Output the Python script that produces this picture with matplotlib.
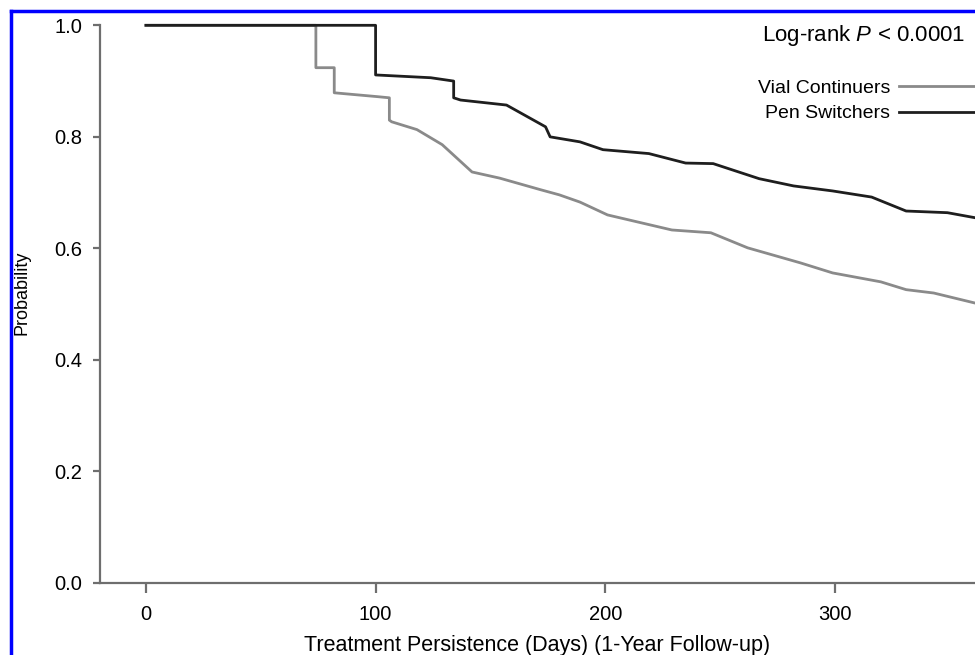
'''Kaplan-Meier style persistence curves: vial continuers vs pen switchers.'''

import matplotlib.pyplot as plt
from matplotlib.lines import Line2D

plt.rcParams['font.family'] = ['Liberation Sans', 'DejaVu Sans']
plt.rcParams['mathtext.fontset'] = 'custom'
plt.rcParams['mathtext.it'] = 'Liberation Sans:italic'
plt.rcParams['mathtext.rm'] = 'Liberation Sans'

# survival curves (days, probability)
vial_days = [0, 74, 74, 82, 82, 101, 106, 106, 107, 118, 129, 142, 154, 172,
             180, 189, 201, 229, 246, 262, 285, 299, 320, 331, 343, 361]
vial_surv = [1.0, 1.0, 0.924, 0.924, 0.879, 0.872, 0.870, 0.830, 0.827, 0.813,
             0.786, 0.737, 0.726, 0.705, 0.696, 0.683, 0.660, 0.633, 0.628,
             0.601, 0.574, 0.556, 0.540, 0.526, 0.520, 0.502]

pen_days = [0, 100, 100, 124, 134, 134, 137, 157, 174, 176, 189, 199, 219,
            235, 247, 267, 282, 299, 316, 331, 349, 361]
pen_surv = [1.0, 1.0, 0.911, 0.906, 0.900, 0.870, 0.866, 0.857, 0.818, 0.800,
            0.791, 0.777, 0.770, 0.753, 0.752, 0.725, 0.712, 0.703, 0.692,
            0.667, 0.664, 0.655]

x_ticks = [0, 100, 200, 300]
y_ticks = [0.0, 0.2, 0.4, 0.6, 0.8, 1.0]
labels = ['Vial Continuers', 'Pen Switchers']

AXIS_GREY = '#6e6e6e'

fig = plt.figure(figsize=(9.75, 6.55), dpi=100)
ax = fig.add_axes([100/975, 72/655, 875/975, 580/655])

ax.plot(vial_days, vial_surv, color='#8a8a8a', lw=2.0, label=labels[0], clip_on=False)
ax.plot(pen_days, pen_surv, color='#1e1e1e', lw=2.0, label=labels[1], clip_on=False)

ax.set_xlim(-20, 361)
ax.set_ylim(0, 1.04)

for side in ['top', 'right']:
    ax.spines[side].set_visible(False)
for side in ['left', 'bottom']:
    ax.spines[side].set_color(AXIS_GREY)
    ax.spines[side].set_linewidth(1.6)
ax.spines['left'].set_bounds(0, 1.0)

ax.set_xticks(x_ticks)
ax.set_xticklabels([str(t) for t in x_ticks])
ax.set_yticks(y_ticks)
ax.set_yticklabels([f'{t:.1f}' for t in y_ticks])
ax.tick_params(axis='x', length=7, width=1.6, color=AXIS_GREY, pad=9, labelsize=14.5)
ax.tick_params(axis='y', length=5, width=1.6, color=AXIS_GREY, pad=8, labelsize=14.5)

ax.set_xlabel('Treatment Persistence (Days) (1-Year Follow-up)', fontsize=15.5, labelpad=8)
ax.set_ylabel('Probability', fontsize=13, labelpad=17)

fig.text(0.99, 1 - 35/655, 'Log-rank $P$ < 0.0001', fontsize=16, ha='right', va='center')

ax.legend(loc='upper right', bbox_to_anchor=(1.0, 1 - 79/655), bbox_transform=fig.transFigure,
          markerfirst=False, frameon=False, fontsize=14, handlelength=3.9,
          handletextpad=0.45, labelspacing=0.42, borderpad=0, borderaxespad=0)

# blue frame around the figure (left and top edges visible)
fig.add_artist(Line2D([11/975, 11/975], [0, 1 - 11/655], color='#0000ff', lw=2.5,
                      transform=fig.transFigure))
fig.add_artist(Line2D([11/975, 1], [1 - 11/655, 1 - 11/655], color='#0000ff', lw=2.5,
                      transform=fig.transFigure))

fig.savefig('out.png', dpi=100)
